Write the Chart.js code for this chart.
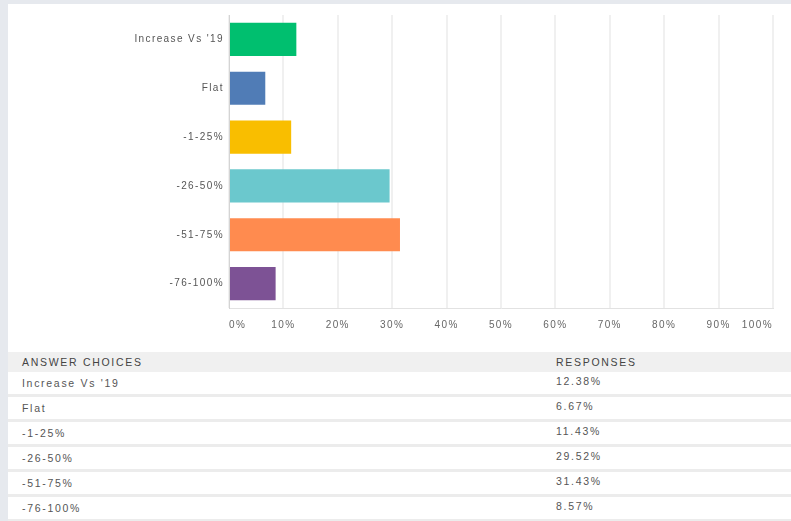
<!DOCTYPE html>
<html>
<head>
<meta charset="utf-8">
<script src="https://cdn.jsdelivr.net/npm/chart.js@4/dist/chart.umd.min.js"></script>
<style>
    html, body { margin: 0; padding: 0; }
    body {
        width: 791px;
        height: 521px;
        background: #e6e9ee;
        position: relative;
        overflow: hidden;
        font-family: "Liberation Sans", Arial, sans-serif;
    }
    .panel {
        position: absolute;
        left: 8px;
        top: 4px;
        width: 783px;
        height: 517px;
        background: #fff;
    }
    .chart-box {
        position: absolute;
        left: 0;
        top: 0;
        width: 783px;
        height: 330px;
    }
    table.responses {
        position: absolute;
        left: 0;
        top: 348px;
        width: 783px;
        border-collapse: collapse;
        font-size: 10.5px;
        letter-spacing: 1.7px;
        color: #555;
    }
    table.responses th {
        background: #f0f0f0;
        font-weight: normal;
        text-align: left;
        height: 20px;
        padding: 0 0 0 14px;
        color: #444;
    }
    table.responses td {
        height: 19px;
        padding: 0 0 0 14px;
        border-bottom: 3px solid #ececec;
        vertical-align: middle;
    }
    table.responses td.val { vertical-align: top; padding-top: 3px; }
    table.responses .col2 { width: 235px; }
</style>
</head>
<body>
<div class="panel">
    <div class="chart-box"><canvas id="myChart"></canvas></div>
    <table class="responses" id="responses">
        <thead>
            <tr><th>ANSWER CHOICES</th><th class="col2">RESPONSES</th></tr>
        </thead>
        <tbody></tbody>
    </table>
</div>
<script>
const categories = ["Increase Vs '19", "Flat", "-1-25%", "-26-50%", "-51-75%", "-76-100%"];
const tableLabels = ["Increase Vs '19", "Flat", "-1-25%", "-26-50%", "-51-75%", "-76-100%"];
const responses = [12.38, 6.67, 11.43, 29.52, 31.43, 8.57];
const barColors = ["#00bf6f", "#507cb6", "#f9be00", "#6bc8cd", "#ff8b4f", "#7d5295"];
const xTicks = [0, 10, 20, 30, 40, 50, 60, 70, 80, 90, 100];

// answer table under the chart
const tbody = document.querySelector('#responses tbody');
tableLabels.forEach((label, i) => {
    const tr = document.createElement('tr');
    tr.innerHTML = '<td>' + label + '</td><td class="val col2">' + responses[i].toFixed(2) + '%</td>';
    tbody.appendChild(tr);
});

// the canvas labels are spaced out a little, like the table text
const spacedText = {
    id: 'spacedText',
    beforeUpdate(chart) { chart.ctx.letterSpacing = '1.4px' },
    beforeLayout(chart) { chart.ctx.letterSpacing = '1.4px' },
    beforeDraw(chart) { chart.ctx.letterSpacing = '1.4px' },
};

const ctx = document.getElementById('myChart').getContext('2d');

const config = {
    type: 'bar',
    data: {
        labels: categories,
        datasets: [{
            data: responses,
            backgroundColor: barColors,
            borderWidth: 0,
            categoryPercentage: 1,
            barPercentage: 0.68,
        }]
    },
    options: {
        indexAxis: 'y',
        responsive: true,
        maintainAspectRatio: false,
        animation: false,
        layout: {
            padding: { top: 9, right: 18, left: 0, bottom: 0 }
        },
        plugins: {
            legend: { display: false },
            tooltip: { enabled: false },
        },
        scales: {
            x: {
                min: 0,
                max: 100,
                afterBuildTicks: (scale) => {
                    scale.ticks = xTicks.map(v => ({ value: v }))
                },
                afterFit: (scale) => { scale.height = 26 },
                grid: {
                    color: '#f0f0f0',
                    lineWidth: 2,
                    drawTicks: false,
                },
                border: { display: true, color: '#e2e2e2', width: 1 },
                ticks: {
                    align: 'inner',
                    padding: 11,
                    color: '#666',
                    font: { family: 'Liberation Sans', size: 10 },
                    callback: (v) => v + '%',
                }
            },
            y: {
                afterFit: (scale) => { scale.width = 221 },
                grid: { display: false, drawTicks: false },
                border: { display: true, color: '#d4d4d4', width: 1 },
                ticks: {
                    padding: 5,
                    color: '#555',
                    font: { family: 'Liberation Sans', size: 10 },
                }
            }
        }
    },
    plugins: [spacedText]
};

new Chart(ctx, config);
</script>
</body>
</html>
